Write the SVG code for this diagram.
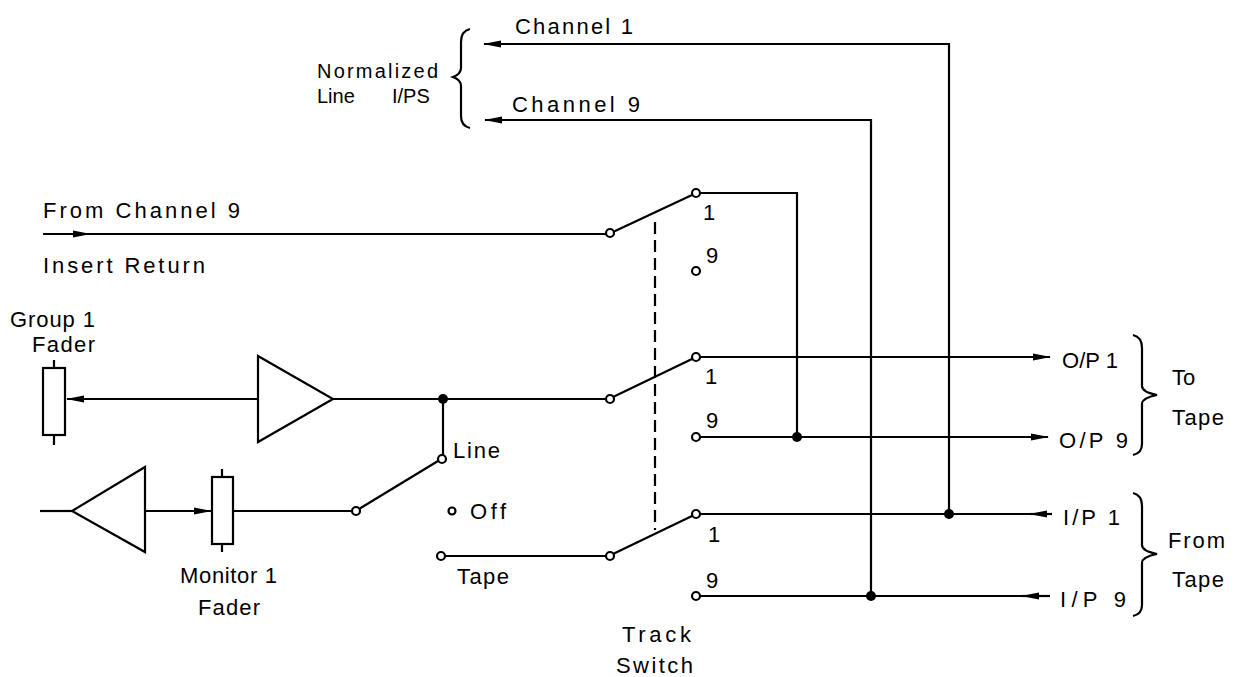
<svg xmlns="http://www.w3.org/2000/svg" width="1242" height="677" viewBox="0 0 1242 677">
<style>
.w{fill:none;stroke:#000;stroke-width:2.2}
.c{fill:#fff;stroke:#000;stroke-width:2.2}
.d{fill:#000}
text{font-family:"Liberation Sans","DejaVu Sans",sans-serif;font-size:22px;fill:#000}
.s{font-size:20px}
</style>
<defs>
<marker id="ah" viewBox="0 0 18 8" refX="17" refY="4" markerWidth="18" markerHeight="8" markerUnits="userSpaceOnUse" orient="auto">
<path d="M0,0.5 L18,4 L0,7.5 Z" fill="#000"/>
</marker>
</defs>
<rect width="1242" height="677" fill="#fff"/>

<g id="connectors">
<path class="w" d="M949,514 V44 H484" marker-end="url(#ah)"/>
<path class="w" d="M871,596 V120 H485" marker-end="url(#ah)"/>
<path class="w" d="M43,234 H90" marker-end="url(#ah)"/>
<path class="w" d="M88,234 H606"/>
<path class="w" d="M613,232 L692,195"/>
<path class="w" d="M700,193 H797 V437"/>
<path class="w" d="M258,399 H67" marker-end="url(#ah)"/>
<path class="w" d="M333,399 H606"/>
<path class="w" d="M443,399 V455"/>
<path class="w" d="M613,397 L692,359"/>
<path class="w" d="M700,357 H1050" marker-end="url(#ah)"/>
<path class="w" d="M700,437 H1048" marker-end="url(#ah)"/>
<path class="w" d="M40,511 H72"/>
<path class="w" d="M145,511 H211" marker-end="url(#ah)"/>
<path class="w" d="M233,511 H352"/>
<path class="w" d="M359,509 L438,461"/>
<path class="w" d="M445,556 H606"/>
<path class="w" d="M613,554 L692,516"/>
<path class="w" d="M1052,514 H1030" marker-end="url(#ah)"/>
<path class="w" d="M1032,514 H700"/>
<path class="w" d="M1050,596 H1022" marker-end="url(#ah)"/>
<path class="w" d="M1024,596 H700"/>
<path class="w" d="M655,222 V530" stroke-dasharray="12,6"/>
</g>

<g id="amp-upper"><path class="w" d="M258,356 L333,399 L258,442 Z"/></g>
<g id="amp-lower"><path class="w" d="M145,467 L72,511 L145,552 Z"/></g>
<g id="group-fader">
<rect class="w" x="43" y="368" width="22" height="67"/>
<path class="w" d="M54,360 V368 M54,435 V445"/>
</g>
<g id="monitor-fader">
<rect class="w" x="212" y="477" width="21" height="67"/>
<path class="w" d="M222,469 V477 M222,544 V552"/>
</g>

<g id="contacts">
<circle class="c" cx="610" cy="233" r="4"/>
<circle class="c" cx="696" cy="193" r="4"/>
<circle class="c" cx="696" cy="271" r="4"/>
<circle class="c" cx="610" cy="399" r="4"/>
<circle class="c" cx="696" cy="357" r="4"/>
<circle class="c" cx="696" cy="437" r="4"/>
<circle class="c" cx="356" cy="511" r="4"/>
<circle class="c" cx="442" cy="459" r="4"/>
<circle class="c" cx="452" cy="511" r="3.5"/>
<circle class="c" cx="441" cy="556" r="4"/>
<circle class="c" cx="610" cy="556" r="4"/>
<circle class="c" cx="696" cy="514" r="4"/>
<circle class="c" cx="696" cy="596" r="4"/>
</g>
<g id="junctions">
<circle class="d" cx="443" cy="399" r="5"/>
<circle class="d" cx="797" cy="437" r="5"/>
<circle class="d" cx="949" cy="514" r="5"/>
<circle class="d" cx="871" cy="596" r="5"/>
</g>

<g id="braces">
<path class="w" d="M470,29 Q461,31 461,42 V68 Q461,74 453,77 Q461,80 461,86 V116 Q461,126 470,128"/>
<path class="w" d="M1133,335 Q1142,337 1142,348 V386 Q1142,392 1157,395 Q1142,398 1142,404 V444 Q1142,453 1133,455"/>
<path class="w" d="M1133,493 Q1142,495 1142,506 V545 Q1142,551 1157,554 Q1142,557 1142,563 V605 Q1142,614 1133,616"/>
</g>

<g id="labels">
<text x="515" y="34" textLength="118" lengthAdjust="spacing">Channel 1</text>
<text x="512" y="112" textLength="128" lengthAdjust="spacing">Channel 9</text>
<text class="s" x="317" y="78" textLength="121" lengthAdjust="spacing">Normalized</text>
<text class="s" x="317" y="103">Line</text>
<text class="s" x="392" y="103">I/PS</text>
<text x="43" y="218" textLength="197" lengthAdjust="spacing">From Channel 9</text>
<text x="43" y="273" textLength="162" lengthAdjust="spacing">Insert Return</text>
<text x="10" y="327" textLength="85" lengthAdjust="spacing">Group 1</text>
<text x="32" y="352" textLength="63" lengthAdjust="spacing">Fader</text>
<text x="180" y="583" textLength="97" lengthAdjust="spacing">Monitor 1</text>
<text x="198" y="615" textLength="62" lengthAdjust="spacing">Fader</text>
<text x="453" y="458" textLength="47" lengthAdjust="spacing">Line</text>
<text x="470" y="519" textLength="36" lengthAdjust="spacing">Off</text>
<text x="457" y="584" textLength="52" lengthAdjust="spacing">Tape</text>
<text x="622" y="642" textLength="69" lengthAdjust="spacing">Track</text>
<text x="616" y="673" textLength="77" lengthAdjust="spacing">Switch</text>
<text x="703" y="220">1</text>
<text x="706" y="263">9</text>
<text x="705" y="384">1</text>
<text x="706" y="428">9</text>
<text x="708" y="542">1</text>
<text x="706" y="588">9</text>
<text x="1062" y="368" textLength="56" lengthAdjust="spacing">O/P 1</text>
<text x="1059" y="448" textLength="69" lengthAdjust="spacing">O/P 9</text>
<text x="1063" y="525" textLength="57" lengthAdjust="spacing">I/P 1</text>
<text x="1060" y="607" textLength="66" lengthAdjust="spacing">I/P 9</text>
<text x="1172" y="385">To</text>
<text x="1172" y="425" textLength="52" lengthAdjust="spacing">Tape</text>
<text x="1168" y="548" textLength="57" lengthAdjust="spacing">From</text>
<text x="1172" y="587" textLength="52" lengthAdjust="spacing">Tape</text>
</g>
</svg>
